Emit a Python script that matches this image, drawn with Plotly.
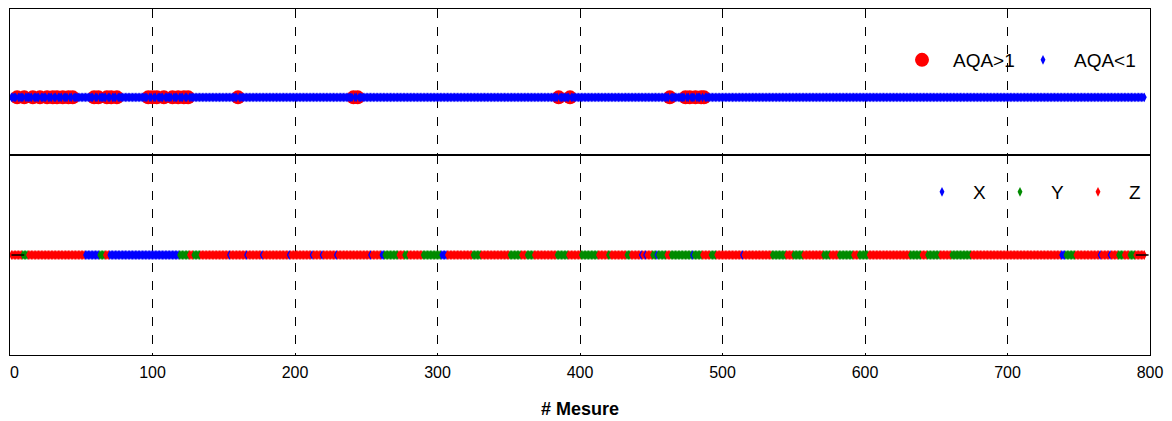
import plotly.graph_objects as go
from plotly.subplots import make_subplots

# ---------------- data ----------------
n_measures = 796
measure_idx = list(range(1, n_measures + 1))

# measures whose AQA > 1 (red circles, top panel)
aqa_high_idx = [5, 10, 16, 21, 26, 30, 33, 37, 41, 44,
                59, 62, 68, 71, 75,
                97, 100, 103, 108, 114, 118, 122, 125,
                160, 241, 244, 385, 393, 463, 474, 477, 481, 485, 487]

# axis of each measure (bottom panel), as runs: (first, last, axis)
axis_runs = [
    (1, 8, "Z"), (9, 12, "Y"), (13, 52, "Z"), (53, 62, "X"), (63, 66, "Y"), (67, 69, "Z"),
    (70, 118, "X"), (119, 125, "Y"), (126, 128, "Z"), (129, 133, "Y"), (134, 260, "Z"),
    (261, 262, "X"), (263, 272, "Y"), (273, 276, "Z"), (277, 279, "Y"), (280, 289, "Z"),
    (290, 302, "Y"), (303, 306, "X"), (307, 324, "Z"), (325, 330, "Y"), (331, 350, "Z"),
    (351, 358, "Y"), (359, 362, "Z"), (363, 367, "Y"), (368, 383, "Z"), (384, 391, "Y"),
    (392, 400, "Z"), (401, 412, "Y"), (413, 419, "Z"), (420, 421, "Y"), (422, 432, "Z"),
    (433, 435, "Y"), (436, 450, "Z"), (451, 460, "Y"), (461, 463, "Z"), (464, 485, "Y"),
    (486, 491, "Z"), (492, 495, "Y"), (496, 534, "Z"), (535, 544, "Y"), (545, 549, "Z"),
    (550, 556, "Y"), (557, 570, "Z"), (571, 575, "Y"), (576, 581, "Z"), (582, 591, "Y"),
    (592, 595, "Z"), (596, 602, "Y"), (603, 631, "Z"), (632, 639, "Y"), (640, 643, "Z"),
    (644, 652, "Y"), (653, 660, "Z"), (661, 674, "Y"), (675, 737, "Z"), (738, 740, "X"),
    (741, 747, "Y"), (748, 777, "Z"), (778, 781, "Y"), (782, 785, "Z"), (786, 789, "Y"),
    (790, 796, "Z"),
]
# isolated X measures inside the other runs
x_single_idx = [154, 166, 177, 196, 212, 219, 229, 253, 443, 446, 454, 479, 514, 765, 772]

# short black segments at both ends of the bottom series
end_segments = [(1, 10), (790, 799)]

x_ticks = [0, 100, 200, 300, 400, 500, 600, 700, 800]
x_ticktext = ["0", "100", "200", "300", "400", "500", "600", "700", "800"]
x_label = "# Mesure"
top_labels = ["AQA>1", "AQA<1"]
axis_labels = ["X", "Y", "Z"]

# ---------------- styling ----------------
FONT = "Liberation Sans, Arial, sans-serif"
RED, BLUE, GREEN = "#FF0000", "#0000FF", "#008B00"
axis_colors = {"X": BLUE, "Y": GREEN, "Z": RED}

# derived
aqa_high_set = set(aqa_high_idx)
low_idx = [i for i in measure_idx if i not in aqa_high_set]
axis_of = {}
for a, b, c in axis_runs:
    for i in range(a, b + 1):
        axis_of[i] = c
for i in x_single_idx:
    axis_of[i] = "X"
bottom_colors = [axis_colors[axis_of[i]] for i in measure_idx]

fig = make_subplots(rows=2, cols=1, shared_xaxes=True, vertical_spacing=0,
                    row_heights=[146, 200])

# top panel
fig.add_trace(go.Scatter(x=aqa_high_idx, y=[0] * len(aqa_high_idx), mode="markers",
                         name=top_labels[0], legend="legend", legendwidth=54,
                         marker=dict(symbol="circle", size=14, color=RED)), row=1, col=1)
fig.add_trace(go.Scatter(x=low_idx, y=[0] * len(low_idx), mode="markers",
                         name=top_labels[1], legend="legend", legendwidth=66,
                         marker=dict(symbol="diamond-tall", size=7, color=BLUE)), row=1, col=1)

# bottom panel
fig.add_trace(go.Scatter(x=measure_idx, y=[0] * n_measures, mode="markers", showlegend=False,
                         marker=dict(symbol="diamond-tall", size=7, color=bottom_colors)),
              row=2, col=1)
seg_x, seg_y = [], []
for a, b in end_segments:
    seg_x += [a, b, None]
    seg_y += [0, 0, None]
fig.add_trace(go.Scatter(x=seg_x, y=seg_y, mode="lines", showlegend=False,
                         line=dict(color="black", width=1.5)), row=2, col=1)
for k, lab in enumerate(axis_labels):
    fig.add_trace(go.Scatter(x=[None], y=[None], mode="markers", name=lab, legend="legend2",
                             legendwidth=11 if k < len(axis_labels) - 1 else 15,
                             marker=dict(symbol="diamond-tall", size=7, color=axis_colors[lab])),
                  row=2, col=1)

# the first tick label sits at the page edge: draw it left-aligned on its tick
shown_ticktext = [""] + x_ticktext[1:]
common_x = dict(range=[0, 800], tickvals=x_ticks, ticktext=shown_ticktext, showline=True,
                mirror=True, linecolor="black", linewidth=1, showgrid=True, gridcolor="black",
                griddash="dash", gridwidth=1, ticks="", zeroline=False, automargin=False)
fig.update_xaxes(**common_x)
fig.update_xaxes(showticklabels=False, row=1, col=1)
fig.update_xaxes(showticklabels=True, tickfont=dict(family=FONT, size=16, color="black"),
                 ticklabelstandoff=3, ticklabeloverflow="allow",
                 title=dict(text=x_label, font=dict(family=FONT, size=18, color="black",
                                                    weight="bold"), standoff=22),
                 row=2, col=1)
fig.add_annotation(x=x_ticks[0], xref="x2", y=0, yref="paper", text=x_ticktext[0],
                   showarrow=False, xanchor="left", yanchor="middle", xshift=-2, yshift=-17,
                   font=dict(family=FONT, size=16, color="black"))
fig.update_yaxes(showline=True, mirror=True, linecolor="black", linewidth=1,
                 showgrid=False, zeroline=False, showticklabels=False, ticks="",
                 automargin=False)
fig.update_yaxes(range=[-0.79, 1.21], row=1, col=1)
fig.update_yaxes(range=[-1, 1], row=2, col=1)

fig.update_layout(
    width=1164, height=413,
    margin=dict(l=2, r=22, t=1, b=66, autoexpand=False),
    paper_bgcolor="white", plot_bgcolor="white",
    font=dict(family=FONT, color="black"),
    legend=dict(orientation="h", x=(891 - 10) / 1140, xanchor="left",
                y=(355 - 60) / 346, yanchor="middle", bgcolor="rgba(0,0,0,0)",
                itemwidth=52, font=dict(family=FONT, size=19, color="black")),
    legend2=dict(orientation="h", x=(911 - 10) / 1140, xanchor="left",
                 y=(355 - 192) / 346, yanchor="middle", bgcolor="rgba(0,0,0,0)",
                 itemwidth=52, font=dict(family=FONT, size=19, color="black")),
)

fig.write_html("out.html")
